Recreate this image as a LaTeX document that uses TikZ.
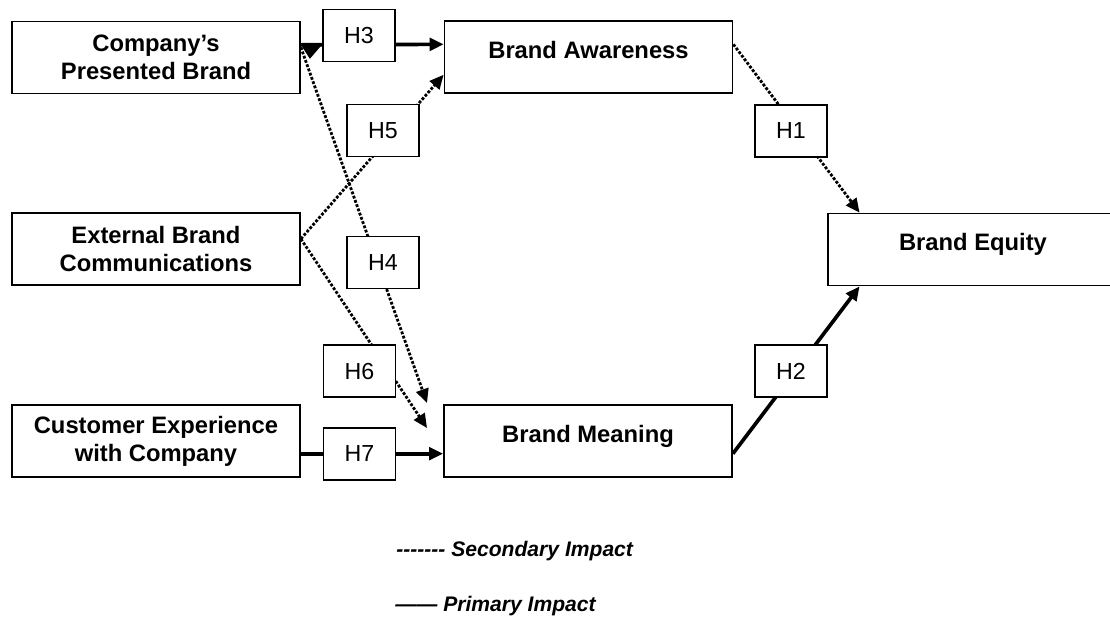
\documentclass[tikz,border=0pt]{standalone}
\usepackage{fontspec}
\setmainfont{Liberation Sans}
\usetikzlibrary{arrows.meta,backgrounds}
\tikzset{
	concept/.style={draw, fill=white, line width=1.2pt, minimum width=7.2cm, minimum height=1.8cm, align=center, inner sep=0pt, font=\fontsize{16.9}{19.9}\selectfont\bfseries},
	oneline/.style={text height=12pt, text depth=10.5pt},
	hyp/.style={draw, fill=white, line width=1.2pt, minimum width=1.8cm, minimum height=1.3cm, inner sep=0pt, font=\fontsize{16.5}{19}\selectfont},
	primary/.style={line width=2.6pt},
	secondary/.style={line width=2pt, dash pattern=on 2pt off 1.2pt},
	arrowed/.style={-{Triangle[length=10pt,width=9pt]}},
	legend/.style={anchor=base west, inner sep=0pt, font=\fontsize{15}{18}\selectfont\bfseries\itshape}
}
\newcommand\hyphens{\hbox{-}\hbox{-}\hbox{-}\hbox{-}\hbox{-}\hbox{-}\hbox{-}}
\begin{document}
\begin{tikzpicture}[x=0.025cm, y=-0.025cm]
	\useasboundingbox (0,0) rectangle (1110,621);
	\clip (0,0) rectangle (1110,621);
	\node[concept] (comp) at (156,57.5) {Company's\\Presented Brand};
	\node[concept] (ext) at (156,249) {External Brand\\Communications};
	\node[concept] (cust) at (156,441) {Customer Experience\\with Company};
	\node[concept, oneline] (aware) at (588.5,57) {Brand Awareness};
	\node[concept, oneline] (mean) at (588,441) {Brand Meaning};
	\node[concept, oneline, minimum width=7.25cm] (equity) at (973,249.5) {Brand Equity};
	\foreach \n/\x/\y in {1/791/131, 2/791/371, 3/359/35.5, 4/383/262.5, 5/383/130.5, 6/359.5/371, 7/359.5/454}
		\node[hyp] (h\n) at (\x,\y) {H\n};
	\coordinate (h4end) at (427,403);
	\coordinate (h6end) at (427,428);
	\begin{scope}[on background layer]
		\draw[primary, arrowed] (comp.5) -- (aware.175);
		\draw[primary, arrowed] (cust.355) -- (mean.185);
		\draw[primary, arrowed] (mean.355) -- (equity.198);
		\draw[secondary, arrowed] (comp.4) -- (h4end);
		\draw[secondary, arrowed] (ext.4) -- (aware.187);
		\draw[secondary, arrowed] (ext.4) -- (h6end);
		\draw[secondary, arrowed] (aware.5) -- (equity.162);
	\end{scope}
	\fill (comp.5) -- ++(21,0) -- ++(-12,14) -- cycle;
	\node[legend] (sec) at (396,556) {\hyphens\ Secondary Impact};
	\node[legend] (pri) at (395,611) {—— Primary Impact};
\end{tikzpicture}
\end{document}
